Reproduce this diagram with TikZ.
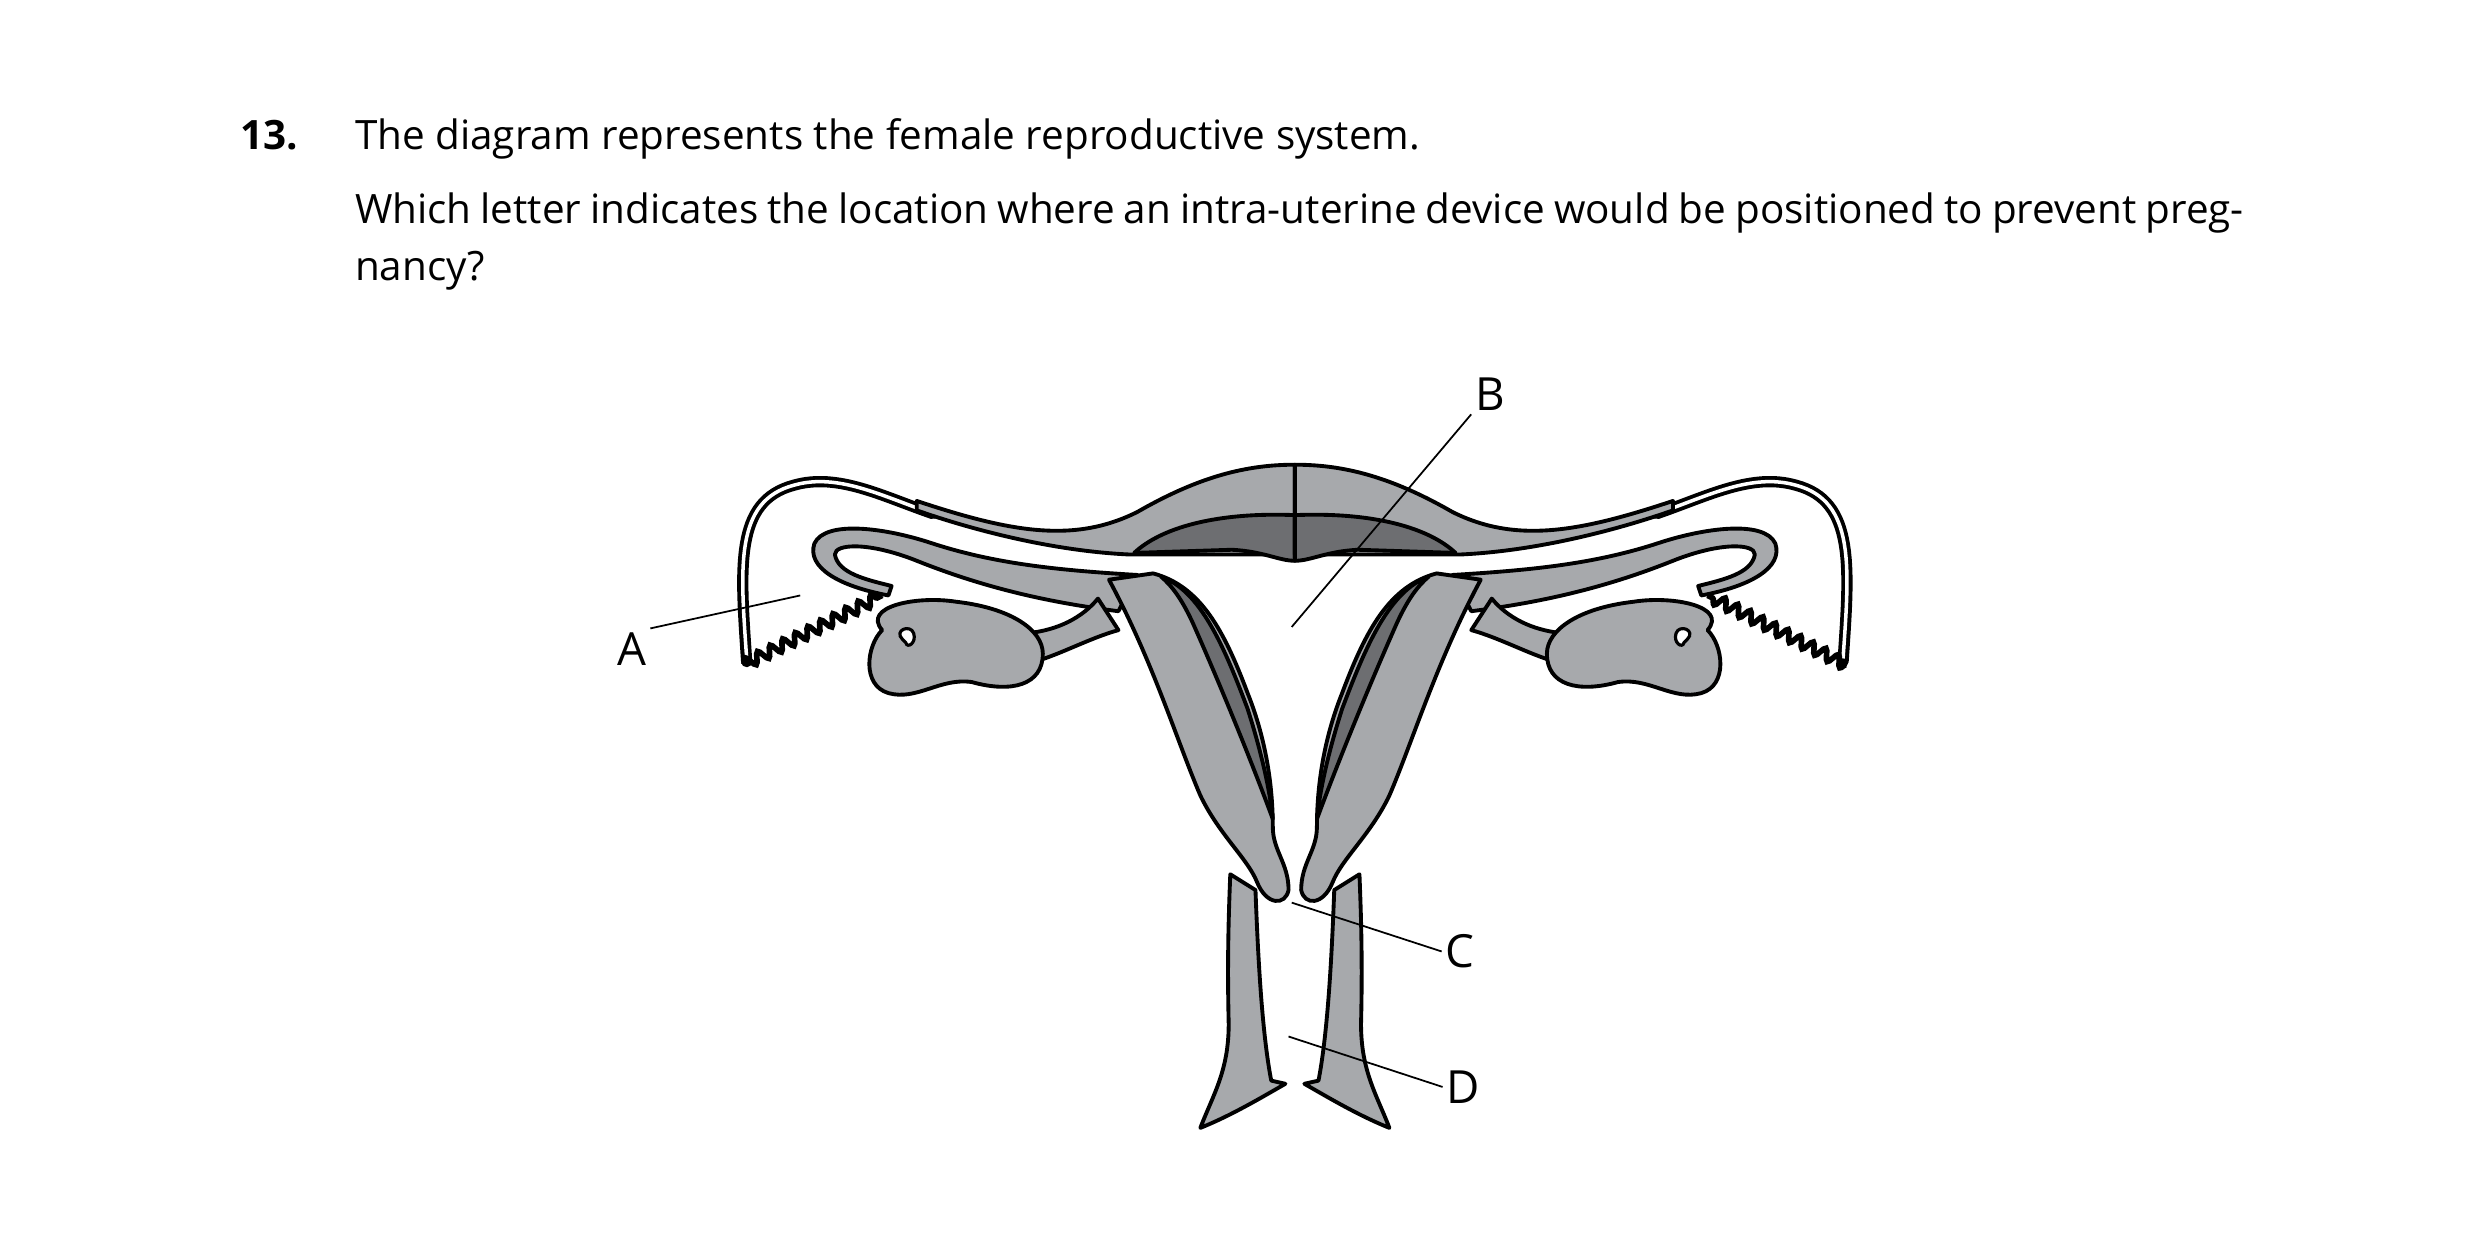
\documentclass[tikz,border=0pt]{standalone}
\usepackage{fontspec}
\setmainfont{Open Sans}
\usetikzlibrary{decorations.pathmorphing}
\definecolor{organ}{HTML}{A7A9AC}
\definecolor{cavity}{HTML}{6D6E71}
\tikzset{
  organfill/.style={fill=organ, draw=black, line width=1.1pt, line join=round},
  darkfill/.style={fill=cavity, draw=black, line width=1.1pt, line join=round},
  pointer/.style={draw=black, line width=0.5pt},
  letter/.style={font=\fontsize{13}{15}\selectfont, inner sep=1pt},
}
\begin{document}
\begin{tikzpicture}[x=0.01575cm, y=-0.01575cm]
\useasboundingbox (0,0) rectangle (1568,785);
% question text
\node[anchor=base west, font=\bfseries\fontsize{11.5}{16}\selectfont, inner sep=0] (num) at (152,95) {13.};
\node[anchor=base west, font=\fontsize{11.5}{16}\selectfont, inner sep=0] (line1) at (225,95) {The diagram represents the female reproductive system.};
\node[anchor=north west, font=\fontsize{11.5}{16.2}\selectfont, inner sep=0, text width=18.88cm, align=justify] (line2) at (225,122)
  {Which letter indicates the location where an intra-uterine device would be positioned to prevent pregnancy?};
% left half, then its mirror image
\foreach \s in {1,-1} {
\begin{scope}[shift={(822,0)}, xscale=\s]
  % outer tube
  \draw[line width=3.2pt, line cap=round] (-348,420) .. controls (-352,360) and (-356,318) .. (-318,308) .. controls (-290,300) and (-262,315) .. (-230,326);
  \draw[white, line width=1pt] (-348,418) .. controls (-352,360) and (-356,318) .. (-318,308) .. controls (-290,300) and (-262,315) .. (-230,326);
  % fimbriae
  \draw[line width=1.6pt, decorate, decoration={snake, amplitude=1.6pt, segment length=4pt}] (-350,422) -- (-262,378);
  % fundus band
  \path[organfill] (-240,318) .. controls (-180,338) and (-140,345) .. (-100,325) .. controls (-60,302) and (-30,295) .. (0,295)
    -- (0,352) -- (-105,352) .. controls (-150,350) and (-200,338) .. (-240,324) -- cycle;
  \path[darkfill] (0,327) .. controls (-50,325) and (-85,335) .. (-102,351) -- (-40,349) .. controls (-20,350) and (-10,356) .. (0,356) -- cycle;
  % inner tube
  \path[organfill] (-258,378) .. controls (-290,372) and (-310,360) .. (-305,345) .. controls (-298,330) and (-260,335) .. (-230,345)
    .. controls (-190,358) and (-150,362) .. (-100,365) -- (-112,388) .. controls (-160,382) and (-200,372) .. (-240,356)
    .. controls (-270,344) and (-292,345) .. (-292,352) .. controls (-290,364) and (-272,368) .. (-256,372) -- cycle;
  % ligament
  \path[organfill] (-170,402) .. controls (-150,400) and (-135,392) .. (-125,380) -- (-112,400) .. controls (-130,405) and (-148,415) .. (-165,420) -- cycle;
  % ovary
  \path[organfill] (-262,400) .. controls (-275,385) and (-240,378) .. (-215,382) .. controls (-180,386) and (-160,400) .. (-160,415)
    .. controls (-160,435) and (-180,440) .. (-205,433) .. controls (-225,430) and (-240,445) .. (-258,440)
    .. controls (-275,435) and (-272,410) .. (-262,400) -- cycle;
  \draw[line width=0.9pt, fill=white] (-249,406) .. controls (-255,400) and (-244,396) .. (-242,402) .. controls (-240,408) and (-246,412) .. (-247,408) -- cycle;
  % uterine wall
  \path[organfill] (-118,368) .. controls (-90,420) and (-75,470) .. (-60,505) .. controls (-48,530) and (-30,545) .. (-24,560)
    .. controls (-18,575) and (-6,575) .. (-4,565) .. controls (-4,548) and (-14,540) .. (-14,525)
    .. controls (-14,500) and (-18,470) .. (-30,440) .. controls (-45,400) and (-60,372) .. (-90,364) -- cycle;
  \path[darkfill] (-85,366) .. controls (-60,375) and (-45,410) .. (-30,450) .. controls (-22,475) and (-16,500) .. (-14,520)
    .. controls (-25,490) and (-45,440) .. (-65,395) .. controls (-72,380) and (-78,372) .. (-85,366) -- cycle;
  % vaginal wall
  \path[organfill] (-41,555) -- (-25,565) .. controls (-23,620) and (-20,660) .. (-15,686) -- (-6,688)
    .. controls (-20,696) and (-40,708) .. (-60,716) .. controls (-52,695) and (-42,680) .. (-42,650) .. controls (-43,610) and (-42,580) .. (-41,555) -- cycle;
\end{scope}
}
% labels
\node[letter] (A) at (401,412) {A};
\coordinate (Atip) at (508,378);
\draw[pointer] (A.north east) -- (Atip);
\node[letter] (B) at (946,250) {B};
\coordinate (Btip) at (820,398);
\draw[pointer] (B.south west) -- (Btip);
\node[letter] (C) at (927,604) {C};
\coordinate (Ctip) at (820,573);
\draw[pointer] (C.west) -- (Ctip);
\node[letter] (D) at (929,690) {D};
\coordinate (Dtip) at (818,658);
\draw[pointer] (D.west) -- (Dtip);
\end{tikzpicture}
\end{document}
